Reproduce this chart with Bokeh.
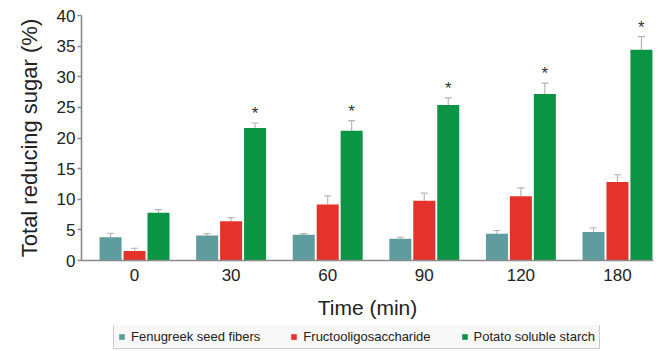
from bokeh.plotting import figure
from bokeh.layouts import column
from bokeh.models import Range1d, Whisker, TeeHead, Legend, LegendItem, FixedTicker, ColumnDataSource
from bokeh.core.properties import value
from bokeh.embed import file_html
from bokeh.resources import INLINE

# ---- data ----
times = ["0", "30", "60", "90", "120", "180"]
series_names = ["Fenugreek seed fibers", "Fructooligosaccharide", "Potato soluble starch"]
fenugreek = [3.8, 4.1, 4.2, 3.55, 4.35, 4.65]
fenugreek_err = [0.65, 0.3, 0.2, 0.25, 0.55, 0.7]
fos = [1.55, 6.4, 9.15, 9.75, 10.5, 12.8]
fos_err = [0.45, 0.6, 1.4, 1.25, 1.35, 1.2]
starch = [7.8, 21.65, 21.2, 25.4, 27.2, 34.4]
starch_err = [0.5, 0.8, 1.65, 1.15, 1.75, 2.15]
significant = [False, True, True, True, True, True]

colors = ["#5E9C9D", "#E3332B", "#0B9444"]
FONT = "Liberation Sans"
TXT = "#222222"

p = figure(width=659, height=325, output_backend="svg", toolbar_location=None,
           x_range=Range1d(-0.549, 5.373), y_range=Range1d(0, 40),
           min_border_left=81, min_border_right=6, min_border_top=15, min_border_bottom=65)
p.outline_line_color = None
p.grid.visible = False
p.background_fill_color = "white"
p.border_fill_color = "white"

# legend strip below the chart (its frame is aligned with the chart's frame)
lg = figure(width=659, height=26, output_backend="svg", toolbar_location=None,
            x_range=p.x_range, y_range=Range1d(50, 51),
            x_axis_type=None, y_axis_type=None, min_border=0)
lg.outline_line_color = None
lg.grid.visible = False

offsets = [-0.248, 0.0, 0.248]
bar_w = 0.228
all_vals = [fenugreek, fos, starch]
all_errs = [fenugreek_err, fos_err, starch_err]
items = []
for k, (vals, errs) in enumerate(zip(all_vals, all_errs)):
    xs = [i + offsets[k] for i in range(len(times))]
    src = ColumnDataSource(dict(x=xs, top=vals, upper=[v + e for v, e in zip(vals, errs)]))
    p.vbar(x="x", top="top", width=bar_w, source=src, fill_color=colors[k], line_color=None)
    w = Whisker(base="x", lower="top", upper="upper", source=src, dimension="height",
                line_color="#b5b5b5", line_width=1.2,
                upper_head=TeeHead(size=7, line_color="#b5b5b5", line_width=1.2), lower_head=None)
    p.add_layout(w)
    # same series in the legend strip (out of its visible y-range, only used for the legend swatch)
    r = lg.vbar(x="x", top="top", width=bar_w, source=src, fill_color=colors[k], line_color=None)
    items.append(LegendItem(label=series_names[k], renderers=[r]))

# significance asterisks
sx = [i + offsets[2] for i in range(len(times)) if significant[i]]
sy = [starch[i] + starch_err[i] for i in range(len(times)) if significant[i]]
p.text(x=sx, y=sy, text=["*"] * len(sx), text_align="center", text_baseline="bottom",
       text_font=value(FONT), text_font_size="17px", text_color="#333333")

# axes
for ax in (p.xaxis[0], p.yaxis[0]):
    ax.axis_line_color = "#8a8a8a"
    ax.axis_line_width = 1.6
    ax.major_label_text_font = FONT
    ax.major_label_text_font_size = "17px"
    ax.major_label_text_color = TXT
    ax.minor_tick_line_color = None
    ax.axis_label_text_font = FONT
    ax.axis_label_text_font_style = "normal"
    ax.axis_label_text_color = TXT

p.xaxis.ticker = FixedTicker(ticks=list(range(len(times))))
p.xaxis.major_label_overrides = {i: t for i, t in enumerate(times)}
p.xaxis.major_tick_line_color = None
p.xaxis.major_tick_out = 0
p.xaxis.major_tick_in = 0
p.xaxis.major_label_standoff = 8
p.xaxis.axis_label = "Time (min)"
p.xaxis.axis_label_text_font_size = "21px"
p.xaxis.axis_label_standoff = 12

p.yaxis.ticker = FixedTicker(ticks=list(range(0, 41, 5)))
p.yaxis.major_tick_line_color = "#8a8a8a"
p.yaxis.major_tick_line_width = 1.4
p.yaxis.major_tick_out = 4
p.yaxis.major_tick_in = 0
p.yaxis.major_label_standoff = 2
p.yaxis.axis_label = "Total reducing sugar (%)"
p.yaxis.axis_label_text_font_size = "22px"
p.yaxis.axis_label_standoff = 12

legend = Legend(items=items, orientation="horizontal", location=(32, 2),
                label_text_font=FONT, label_text_font_size="13px", label_text_color=TXT,
                glyph_width=7, glyph_height=7, label_standoff=6, spacing=30,
                label_height=12, padding=4, margin=0,
                border_line_color="#9a9a9a", border_line_width=1.5,
                background_fill_color="#f8f8f8", background_fill_alpha=1.0)
lg.add_layout(legend, "center")

layout = column(p, lg, spacing=0)
open("out.html", "w").write(file_html(layout, INLINE))
